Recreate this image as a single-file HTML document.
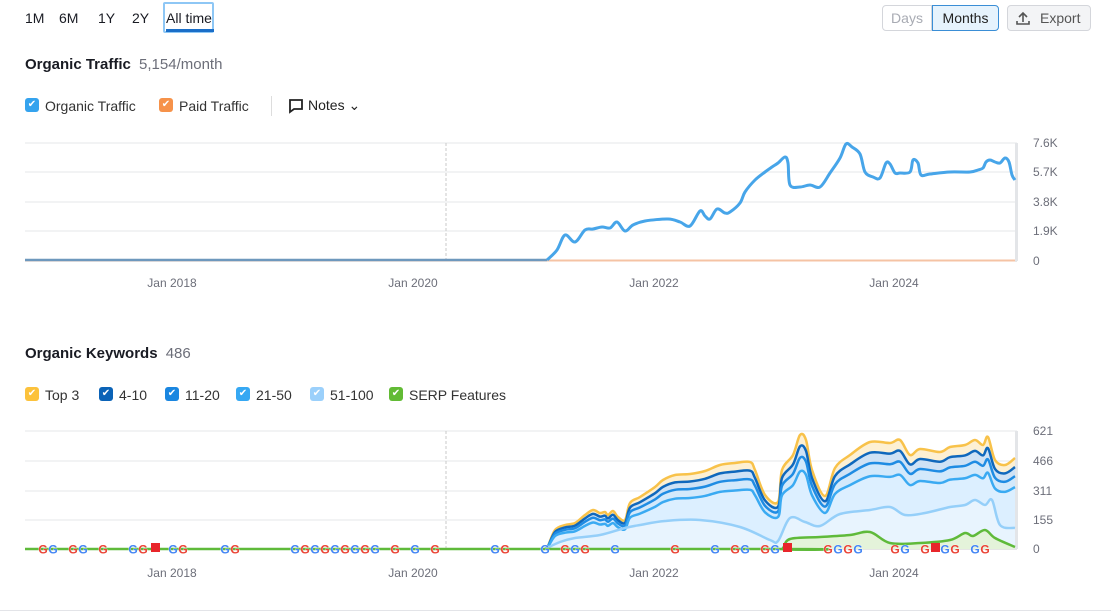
<!DOCTYPE html>
<html><head><meta charset="utf-8"><style>
body{margin:0;width:1111px;height:614px;background:#fff;font-family:"Liberation Sans",sans-serif;color:#191b23;position:relative;overflow:hidden}
.a{position:absolute;white-space:nowrap}
.cb{position:absolute;width:14px;height:14px;border-radius:3px;color:#fff;font-size:10px;line-height:14px;text-align:center}
.lg{position:absolute;font-size:14px;color:#333}
</style></head><body>
<div class="a" style="left:25px;top:10px;font-size:14px">1M</div>
<div class="a" style="left:59px;top:10px;font-size:14px">6M</div>
<div class="a" style="left:98px;top:10px;font-size:14px">1Y</div>
<div class="a" style="left:132px;top:10px;font-size:14px">2Y</div>
<div class="a" style="left:163px;top:2px;width:51px;height:31px;border:2px solid #8ec7f5;box-sizing:border-box;border-radius:2px"></div>
<div class="a" style="left:166px;top:10px;font-size:14px">All time</div>
<div class="a" style="left:166px;top:29px;width:48px;height:3px;background:#1a6ec8"></div>
<div class="a" style="left:882px;top:5px;width:50px;height:26px;border:1px solid #d4d6db;border-radius:4px 0 0 4px;box-sizing:border-box;color:#a8abb3;font-size:14px;text-align:center;line-height:24px">Days</div>
<div class="a" style="left:932px;top:5px;width:67px;height:26px;border:1px solid #3a8ed6;background:#e6f3fd;border-radius:0 4px 4px 0;box-sizing:border-box;font-size:14px;text-align:center;line-height:24px;color:#222">Months</div>
<div class="a" style="left:1007px;top:5px;width:84px;height:26px;border:1px solid #d4d6db;background:#f3f4f6;border-radius:4px;box-sizing:border-box;font-size:14px;line-height:24px;color:#555;padding-left:32px">Export</div>
<svg class="a" style="left:1015px;top:10px" width="16" height="16"><path d="M8 12V3M4 7l4-4 4 4M2 11v3h12v-3" stroke="#555" stroke-width="1.6" fill="none"/></svg>

<div class="a" style="left:25px;top:56px;font-size:15px;font-weight:bold">Organic Traffic <span style="font-weight:normal;color:#6c6e79;margin-left:4px">5,154/month</span></div>
<div class="cb" style="left:25px;top:98px;background:#35a3ee">✔</div><div class="lg" style="left:45px;top:98px">Organic Traffic</div>
<div class="cb" style="left:159px;top:98px;background:#f6924a">✔</div><div class="lg" style="left:179px;top:98px">Paid Traffic</div>
<div class="a" style="left:271px;top:96px;width:1px;height:20px;background:#ddd"></div>
<svg class="a" style="left:288px;top:98px" width="16" height="16"><path d="M2 2h12v9H6l-4 3z" stroke="#222" stroke-width="1.8" fill="none"/></svg>
<div class="lg" style="left:308px;top:97px;color:#222">Notes ⌄</div>

<div class="a" style="left:25px;top:345px;font-size:15px;font-weight:bold">Organic Keywords <span style="font-weight:normal;color:#6c6e79;margin-left:4px">486</span></div>
<div class="cb" style="left:25px;top:387px;background:#fcc23c">✔</div><div class="lg" style="left:45px;top:387px">Top 3</div>
<div class="cb" style="left:99px;top:387px;background:#0b63b7">✔</div><div class="lg" style="left:119px;top:387px">4-10</div>
<div class="cb" style="left:165px;top:387px;background:#1a86e0">✔</div><div class="lg" style="left:185px;top:387px">11-20</div>
<div class="cb" style="left:236px;top:387px;background:#36a8f3">✔</div><div class="lg" style="left:256px;top:387px">21-50</div>
<div class="cb" style="left:310px;top:387px;background:#9bd0fb">✔</div><div class="lg" style="left:330px;top:387px">51-100</div>
<div class="cb" style="left:389px;top:387px;background:#62bb35">✔</div><div class="lg" style="left:409px;top:387px">SERP Features</div>

<svg id="s" class="a" style="left:0;top:0" width="1111" height="614"></svg>
<div class="a" style="left:0;top:610px;width:1111px;height:1px;background:#e3e4e8"></div>
<script>
const s=document.getElementById('s');let h='';
function grid(ys,labels,ytop){ys.forEach((y,i)=>{h+=`<line x1="25" x2="1017" y1="${y}" y2="${y}" stroke="${i==ys.length-1?'#ccc':'#e6e7ea'}"/>`;h+=`<text x="1033" y="${y+4}" font-size="12" fill="#6c6e79">${labels[i]}</text>`});
h+=`<line x1="446" x2="446" y1="${ys[0]}" y2="${ys[ys.length-1]}" stroke="#c8c8c8" stroke-dasharray="3,2"/>`;
h+=`<rect x="1015" y="${ys[0]}" width="3" height="${ys[ys.length-1]-ys[0]}" fill="#e3e5e8"/>`;
[[172,'Jan 2018'],[413,'Jan 2020'],[654,'Jan 2022'],[894,'Jan 2024']].forEach(([x,t])=>h+=`<text x="${x}" y="${ytop}" font-size="12" fill="#6c6e79" text-anchor="middle">${t}</text>`);}
grid([143,172,202,231,261],['7.6K','5.7K','3.8K','1.9K','0'],287);
grid([431,461,491,520,549],['621','466','311','155','0'],577);
function sm(a){let d=`M${a[0][0]},${a[0][1]}`;for(let i=0;i<a.length-1;i++){const p0=a[Math.max(i-1,0)],p1=a[i],p2=a[i+1],p3=a[Math.min(i+2,a.length-1)];const k=6;
d+=` C${p1[0]+(p2[0]-p0[0])/k},${p1[1]+(p2[1]-p0[1])/k} ${p2[0]-(p3[0]-p1[0])/k},${p2[1]-(p3[1]-p1[1])/k} ${p2[0]},${p2[1]}`;}return d;}
const tr=[[547,260],[557,250],[565,235],[575,242],[585,230],[593,229],[602,227],[610,228],[617,222],[625,231],[633,225],[645,221],[668,219],[680,222],[690,226],[700,211],[705,216],[710,219],[717,209],[725,213],[730,212],[740,203],[745,192],[755,180],[765,172],[772,167],[778,163],[785,157],[788,163],[790,185],[800,187],[810,185],[820,187],[830,173],[840,158],[846,144],[852,147],[860,154],[865,172],[873,177],[880,178],[886,163],[890,164],[895,173],[900,173],[910,172],[913,160],[918,163],[921,175],[930,174],[950,172],[970,172],[978,170],[983,168],[986,162],[990,160],[995,162],[1000,163],[1005,158],[1009,162],[1012,175],[1015,180]];
h+=`<line x1="25" x2="1015" y1="260.5" y2="260.5" stroke="#f5c3a4" stroke-width="2"/>`;
h+=`<line x1="25" x2="547" y1="260" y2="260" stroke="#6e98bd" stroke-width="2.5"/>`;
h+=`<path d="${sm(tr)}" fill="none" stroke="#47a5e9" stroke-width="3" stroke-linejoin="round"/>`;
const B=549;
const t3=[[545,549],[548,546],[555,530],[565,525],[575,523],[585,515],[593,510],[600,513],[605,512],[608,515],[613,511],[618,517],[625,520],[630,503],[640,497],[655,487],[663,480],[675,475],[690,474],[705,471],[720,465],[735,463],[750,462],[755,470],[765,495],[778,502],[782,470],[793,455],[800,435],[806,440],[812,470],[825,496],[835,468],[850,455],[870,442],[890,443],[900,440],[910,455],[920,449],[940,452],[950,447],[965,445],[975,440],[983,445],[988,437],[995,460],[1005,465],[1015,458]];
const sc=f=>t3.map(([x,y])=>[x,B-(B-y)*f]);
const l4=sc(.9),l11=sc(.8),l21=sc(.68);
const l51=[[545,549],[560,542],[575,538],[600,535],[625,528],[640,525],[665,521],[700,520],[740,527],[770,540],[778,541],[790,518],[805,522],[820,526],[840,514],[870,510],[890,507],[905,515],[925,513],[950,507],[965,505],[975,500],[985,505],[992,500],[1000,525],[1015,528]];
const sf=[[25,549],[770,549],[782,549],[790,539],[820,537],[850,535],[870,532],[890,543],[920,543],[950,540],[965,533],[973,536],[985,530],[995,538],[1015,547]];
const area=(a,c)=>h+=`<path d="${sm(a)} L1015,549 L545,549Z" fill="${c}"/>`;
area(t3,'#fdf0d3');area(l4,'#cfe2f5');area(l11,'#d3e9fb');area(l21,'#dcefff');area(l51,'#e8f4fe');
h+=`<path d="${sm(sf)} L1015,549Z" fill="#e4f3da"/>`;
const ln=(a,c)=>h+=`<path d="${sm(a)}" fill="none" stroke="${c}" stroke-width="2.5" stroke-linejoin="round"/>`;
ln(t3,'#f8c24a');ln(l4,'#0f68bd');ln(l11,'#1f8ce3');ln(l21,'#3aaaf2');ln(l51,'#95cff9');ln(sf,'#5fba3a');
const gs=[43,53,73,83,103,133,143,173,183,225,235,295,305,315,325,335,345,355,365,375,395,415,435,495,505,545,565,575,585,615,675,715,735,745,765,775,828,838,848,858,895,905,925,945,955,975,985];
const cols=['#ea4335','#4285f4'];
gs.forEach((x,i)=>h+=`<text x="${x}" y="553.5" font-size="12" font-weight="bold" fill="${cols[i%2]}" text-anchor="middle" stroke="#fff" stroke-width="0.5" paint-order="stroke">G</text>`);
[155,787,935].forEach(x=>h+=`<rect x="${x-4}" y="543" width="9" height="9" fill="#e8262b"/>`);
s.innerHTML=h;
</script>
</body></html>
